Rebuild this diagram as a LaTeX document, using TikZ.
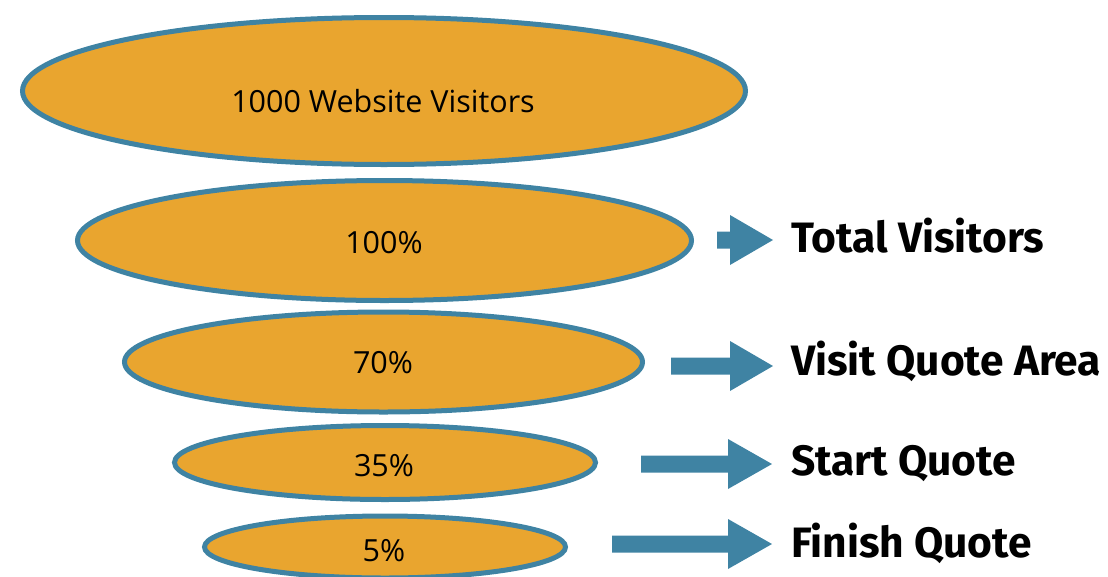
\documentclass[tikz,border=0pt]{standalone}
\usepackage{fontspec}
\setmainfont{Open Sans}
\newfontfamily\labelfont{Fira Sans}
\usetikzlibrary{shapes.geometric}
\definecolor{funnelorange}{RGB}{233,165,47}
\definecolor{funnelblue}{RGB}{63,131,163}
\tikzset{
  funnel/.style={ellipse, draw=funnelblue, fill=funnelorange, line width=5pt, inner sep=0pt},
  pct/.style={font=\fontsize{30.5}{33}\selectfont, text=black, anchor=base, inner sep=0pt},
  steplabel/.style={font=\labelfont\bfseries\fontsize{42.5}{46}\selectfont, text=black, anchor=base west, inner sep=0pt},
  blockarrow/.style={fill=funnelblue}
}
\newcommand{\blockarr}[4]{% start x, base x, tip x, center y
  \fill[blockarrow] (#1,#4-8.5) -- (#2,#4-8.5) -- (#2,#4-25) -- (#3,#4) -- (#2,#4+25) -- (#2,#4+8.5) -- (#1,#4+8.5) -- cycle;}
\begin{document}
\begin{tikzpicture}[x=1pt,y=-1pt]
\useasboundingbox (0,0) rectangle (1108,576);
\node[funnel, minimum width=723pt, minimum height=147pt] (e1) at (384,91) {};
\node[funnel, minimum width=614pt, minimum height=120pt] (e2) at (384.5,240.5) {};
\node[funnel, minimum width=518pt, minimum height=100pt] (e3) at (383.5,362) {};
\node[funnel, minimum width=421pt, minimum height=74pt] (e4) at (385,462.5) {};
\node[funnel, minimum width=361pt, minimum height=62pt] (e5) at (385,547) {};
\node[pct] (t1) at (383,112) {1000 Website Visitors};
\node[pct] (t2) at (384,253) {100\%};
\node[pct] (t3) at (383,373) {70\%};
\node[pct] (t4) at (384,476) {35\%};
\node[pct] (t5) at (384,561) {5\%};
\node[steplabel] (l1) at (791,252) {Total Visitors};
\node[steplabel] (l2) at (791,375) {Visit Quote Area};
\node[steplabel] (l3) at (791,475) {Start Quote};
\node[steplabel] (l4) at (791,557) {Finish Quote};
\blockarr{717}{730}{773}{240}
\blockarr{671}{730}{773}{366}
\blockarr{641}{728}{772}{464}
\blockarr{612}{728}{772}{544}
\end{tikzpicture}
\end{document}
